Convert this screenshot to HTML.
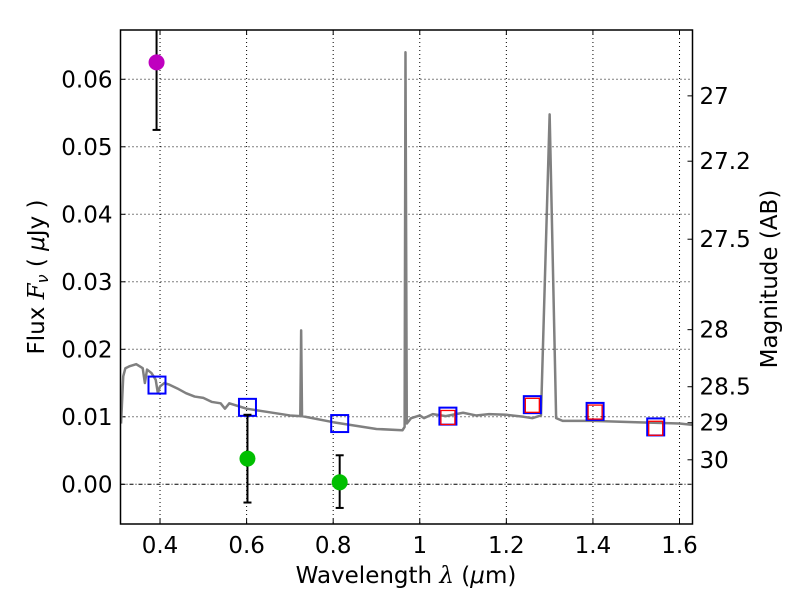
<!DOCTYPE html>
<html><head><meta charset="utf-8"><style>
body{margin:0;background:#fff}
svg{display:block;font-family:"DejaVu Sans","Liberation Sans",sans-serif}
</style></head><body>
<svg id="chart" width="800" height="600" xmlns="http://www.w3.org/2000/svg"></svg>
<script>
const xTicks=[0.4,0.6,0.8,1.0,1.2,1.4,1.6];
const xTickLabels=["0.4","0.6","0.8","1","1.2","1.4","1.6"];
const yTicks=[0,0.01,0.02,0.03,0.04,0.05,0.06];
const yTickLabels=["0.00","0.01","0.02","0.03","0.04","0.05","0.06"];
const magTicks=[27,27.2,27.5,28,28.5,29,30];
const magTickLabels=["27","27.2","27.5","28","28.5","29","30"];
const specWave=[0.31,0.315,0.32,0.33,0.345,0.355,0.36,0.365,0.37,0.38,0.39,0.395,0.40,0.41,0.42,0.44,0.46,0.48,0.5,0.52,0.54,0.55,0.56,0.58,0.6,0.65,0.7,0.724,0.726,0.728,0.8,0.9,0.96,0.965,0.967,0.97,0.98,1.0,1.01,1.03,1.06,1.1,1.13,1.16,1.2,1.24,1.26,1.28,1.3,1.315,1.33,1.4,1.5,1.6,1.63];
const specFlux=[0.009,0.016,0.0172,0.0175,0.0178,0.0174,0.0172,0.015,0.017,0.0165,0.0155,0.0135,0.0145,0.0150,0.0148,0.0142,0.0135,0.013,0.0128,0.0122,0.012,0.0112,0.012,0.0116,0.0112,0.0107,0.0102,0.0101,0.0228,0.0101,0.0092,0.0082,0.008,0.0085,0.064,0.009,0.0098,0.0102,0.0098,0.0104,0.0101,0.0106,0.0102,0.0104,0.0103,0.0100,0.0098,0.0102,0.0548,0.0098,0.0094,0.0094,0.0092,0.0090,0.0088];
const blueWave=[0.393,0.602,0.815,1.065,1.26,1.405,1.545];
const blueFlux=[0.0147,0.0114,0.0090,0.0101,0.0118,0.0108,0.0085];
const redWave=[1.065,1.26,1.405,1.545];
const redFlux=[0.0099,0.0117,0.0107,0.0083];
const dotWave=[0.392,0.602,0.815];
const dotFlux=[0.0625,0.0038,0.0003];
const dotLo=[0.0525,-0.0027,-0.0035];
const dotHi=[0.075,0.0103,0.0043];
const dotColor=["#bf00bf","#00bf00","#00bf00"];

const L=120.5,R=692.5,T=30,B=524;
const X0=0.3087,X1=1.630,Y0=-0.00588,Y1=0.0673;
const sx=v=>L+(v-X0)/(X1-X0)*(R-L);
const sy=v=>B-(v-Y0)/(Y1-Y0)*(B-T);
const svg=document.getElementById('chart');
const NS='http://www.w3.org/2000/svg';
function mk(tag,attrs,parent){const e=document.createElementNS(NS,tag);for(const k in attrs)e.setAttribute(k,attrs[k]);(parent||svg).appendChild(e);return e;}

const defs=mk('clipPath',{id:'clip'});mk('rect',{x:L,y:T,width:R-L,height:B-T},defs);
const FS=23;
xTicks.forEach((v,i)=>{
  const g=mk('line',{x1:sx(v),x2:sx(v),y1:T,y2:B,stroke:'#000','stroke-width':1,'stroke-dasharray':'1,3'});
  
  
  mk('line',{x1:sx(v),x2:sx(v),y1:B,y2:B-5,stroke:'#000'});
  mk('line',{x1:sx(v),x2:sx(v),y1:T,y2:T+5,stroke:'#000'});
  const t=mk('text',{x:sx(v),y:B+29,'text-anchor':'middle','font-size':FS});t.textContent=xTickLabels[i];
  
  
});
yTicks.forEach((v,i)=>{
  const g=mk('line',{x1:L,x2:R,y1:sy(v),y2:sy(v),stroke:'#000','stroke-width':1,'stroke-dasharray':v===0?'4,2,1,2':'1,3'});
  
  
  mk('line',{x1:L,x2:L+5,y1:sy(v),y2:sy(v),stroke:'#000'});
  const t=mk('text',{x:L-8,y:sy(v)+8,'text-anchor':'end','font-size':FS});t.textContent=yTickLabels[i];
  
  
});
magTicks.forEach((m,i)=>{
  const f=Math.pow(10,(23.9-m)/2.5);
  mk('line',{x1:R,x2:R-5,y1:sy(f),y2:sy(f),stroke:'#000'});
  const t=mk('text',{x:R+7,y:sy(f)+8,'font-size':FS});t.textContent=magTickLabels[i];
  
  
});
const sp=mk('polyline',{points:specWave.map((w,i)=>sx(w)+','+sy(specFlux[i])).join(' '),fill:'none',stroke:'#808080','stroke-width':2.5,'stroke-linejoin':'round','clip-path':'url(#clip)'});


blueWave.forEach((w,i)=>{
  const r=mk('rect',{x:sx(w)-8.5,y:sy(blueFlux[i])-8.5,width:17,height:17,fill:'none',stroke:'#0000ff','stroke-width':2});
  
  
});
redWave.forEach((w,i)=>{
  const r=mk('rect',{x:sx(w)-7,y:sy(redFlux[i])-7,width:14,height:14,fill:'none',stroke:'#ff0000','stroke-width':1.3});
  
  
});
dotWave.forEach((w,i)=>{
  const x=sx(w);
  const e=mk('line',{x1:x,x2:x,y1:sy(dotLo[i]),y2:Math.max(T,sy(dotHi[i])),stroke:'#000','stroke-width':2});
  
  
  mk('line',{x1:x-4,x2:x+4,y1:sy(dotLo[i]),y2:sy(dotLo[i]),stroke:'#000','stroke-width':2});
  if(sy(dotHi[i])>T)mk('line',{x1:x-4,x2:x+4,y1:sy(dotHi[i]),y2:sy(dotHi[i]),stroke:'#000','stroke-width':2});
  const c=mk('circle',{cx:x,cy:sy(dotFlux[i]),r:8,fill:dotColor[i]});
  
  
});
const fr=mk('rect',{x:L,y:T,width:R-L,height:B-T,fill:'none',stroke:'#000','stroke-width':1.5});


const xl=mk('text',{x:406,y:583,'text-anchor':'middle','font-size':FS});
xl.innerHTML='Wavelength  <tspan font-style="italic" font-family="DejaVu Serif, serif">λ</tspan> (<tspan font-style="italic">μ</tspan>m)';


const yl=mk('text',{x:0,y:0,'text-anchor':'middle','font-size':FS,transform:'translate(44,277) rotate(-90)'});
yl.innerHTML='Flux  <tspan font-style="italic" font-family="DejaVu Serif, serif">F</tspan><tspan font-style="italic" font-size="16" dy="4">ν</tspan><tspan dy="-4">  (  </tspan><tspan font-style="italic">μ</tspan>Jy )';


const yr=mk('text',{x:0,y:0,'text-anchor':'middle','font-size':FS,transform:'translate(777,279) rotate(-90)'});
yr.textContent='Magnitude (AB)';


</script>
</body></html>
